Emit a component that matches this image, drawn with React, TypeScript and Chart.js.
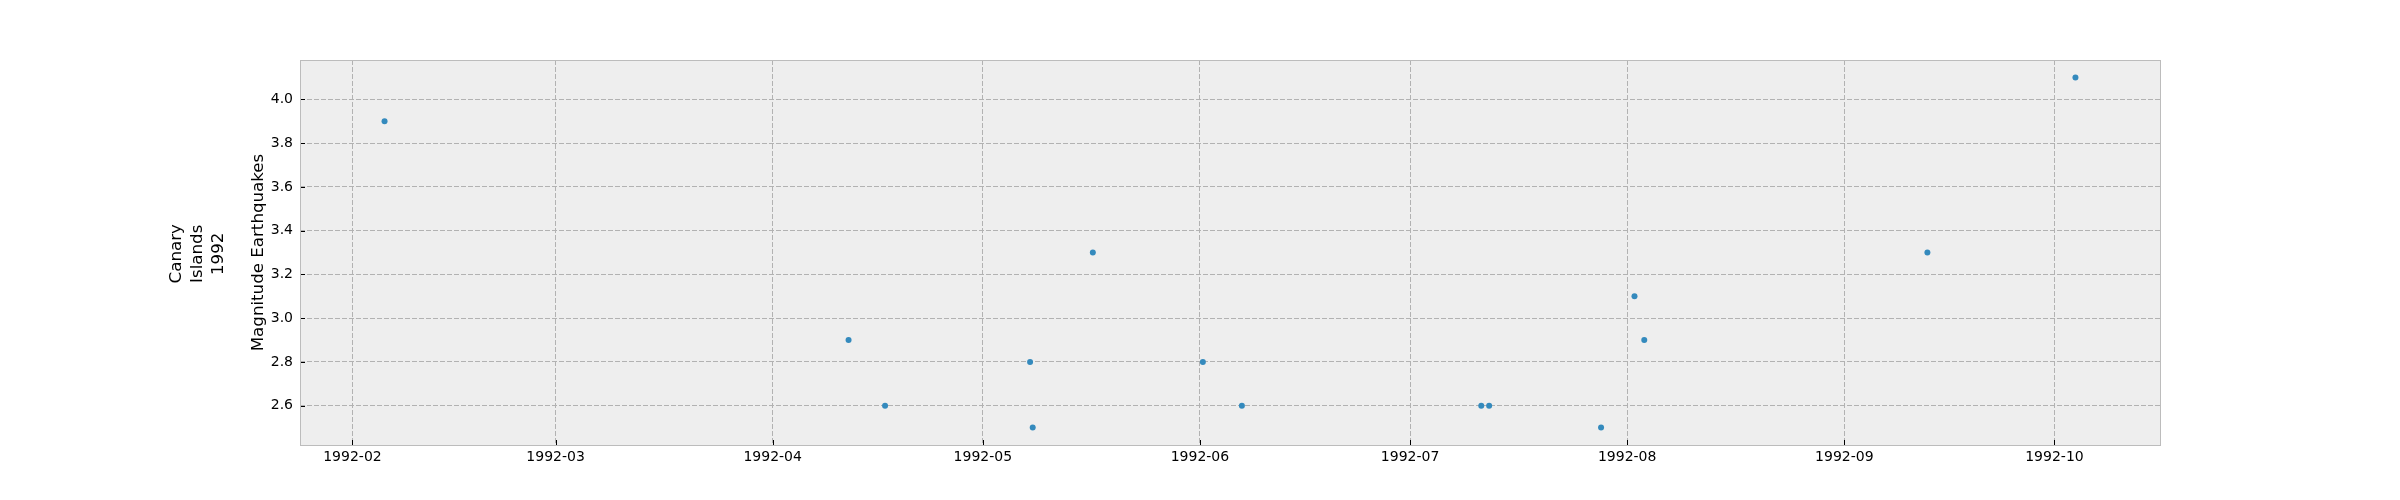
import React, { useEffect, useRef } from "react";
import { Chart, registerables } from "chart.js";

Chart.register(...registerables);

// Event times (UTC) and magnitudes
const EVENT_TIMES: string[] = [
  "1992-02-05T14:00Z",
  "1992-04-11T20:00Z",
  "1992-04-17T01:00Z",
  "1992-05-07T18:00Z",
  "1992-05-08T03:00Z",
  "1992-05-16T17:00Z",
  "1992-06-01T10:00Z",
  "1992-06-06T23:45Z",
  "1992-07-11T04:00Z",
  "1992-07-12T07:00Z",
  "1992-07-28T06:30Z",
  "1992-08-02T01:00Z",
  "1992-08-03T10:30Z",
  "1992-09-12T20:40Z",
  "1992-10-04T00:00Z",
];
const MAGNITUDES: number[] = [3.9, 2.9, 2.6, 2.8, 2.5, 3.3, 2.8, 2.6, 2.6, 2.6, 2.5, 3.1, 2.9, 3.3, 4.1];

const X_TICK_LABELS: string[] = [
  "1992-02", "1992-03", "1992-04", "1992-05", "1992-06",
  "1992-07", "1992-08", "1992-09", "1992-10",
];
const Y_TICKS: number[] = [2.6, 2.8, 3.0, 3.2, 3.4, 3.6, 3.8, 4.0];

const Y_TITLE = "Magnitude Earthquakes";
const SIDE_LABEL: string[] = ["Canary", "Islands", "1992"];

const FONT = "'DejaVu Sans', sans-serif";

export default function App() {
  const ref = useRef<HTMLCanvasElement | null>(null);

  useEffect(() => {
    if (!ref.current) return;
    const xs = EVENT_TIMES.map((t) => Date.parse(t));
    const points = xs.map((x, i) => ({ x, y: MAGNITUDES[i] }));
    const xMin0 = Math.min(...xs), xMax0 = Math.max(...xs);
    const xm = (xMax0 - xMin0) * 0.05;
    const yMin0 = Math.min(...MAGNITUDES), yMax0 = Math.max(...MAGNITUDES);
    const ym = (yMax0 - yMin0) * 0.05;
    const xTickValues = X_TICK_LABELS.map((l) => Date.parse(l + "-01T00:00Z"));

    const bmhPlugin = {
      id: "bmh",
      beforeDraw(chart: any) {
        const { ctx, chartArea: a } = chart;
        ctx.save();
        ctx.fillStyle = "#eeeeee";
        ctx.fillRect(a.left, a.top, a.right - a.left, a.bottom - a.top);
        ctx.restore();
      },
      afterDraw(chart: any) {
        const { ctx, chartArea: a } = chart;
        const xs = chart.scales.x;
        const ys = chart.scales.y;
        ctx.save();
        // inward tick marks
        ctx.strokeStyle = "#000";
        ctx.lineWidth = 1;
        ctx.beginPath();
        for (const t of xs.ticks) {
          const px = Math.round(xs.getPixelForValue(t.value)) + 0.5;
          ctx.moveTo(px, a.bottom);
          ctx.lineTo(px, a.bottom - 5);
        }
        for (const t of ys.ticks) {
          const py = Math.round(ys.getPixelForValue(t.value)) + 0.5;
          ctx.moveTo(a.left, py);
          ctx.lineTo(a.left + 5, py);
        }
        ctx.stroke();
        // frame
        ctx.strokeStyle = "#bcbcbc";
        ctx.lineWidth = 1;
        ctx.strokeRect(Math.round(a.left) + 0.5, Math.round(a.top) + 0.5, Math.round(a.right - a.left), Math.round(a.bottom - a.top));
        // y titles
        const cy = (a.top + a.bottom) / 2;
        ctx.fillStyle = "#000";
        ctx.textAlign = "center";
        ctx.textBaseline = "alphabetic";
        ctx.save();
        ctx.translate(a.left - 37, cy);
        ctx.rotate(-Math.PI / 2);
        ctx.font = `16.67px ${FONT}`;
        ctx.fillText(Y_TITLE, 0, 0);
        ctx.restore();
        SIDE_LABEL.forEach((line, i) => {
          ctx.save();
          ctx.translate(a.left - 119 + i * 20.8, cy + 1.3);
          ctx.rotate(-Math.PI / 2);
          ctx.font = `16.67px ${FONT}`;
          ctx.fillText(line, 0, 0);
          ctx.restore();
        });
        ctx.restore();
      },
    };

    const chart = new Chart(ref.current, {
      type: "scatter",
      data: {
        datasets: [
          {
            data: points,
            backgroundColor: "#348ABD",
            borderWidth: 0,
            pointRadius: 3,
            pointHoverRadius: 3,
          },
        ],
      },
      options: {
        animation: false,
        responsive: false,
        devicePixelRatio: 1,
        events: [],
        layout: { padding: { top: 60, right: 240, bottom: 0, left: 0 } },
        plugins: { legend: { display: false }, tooltip: { enabled: false } },
        scales: {
          x: {
            type: "linear",
            min: xMin0 - xm,
            max: xMax0 + xm,
            afterBuildTicks: (s: any) => {
              s.ticks = xTickValues.map((v) => ({ value: v }));
            },
            afterFit: (s: any) => {
              s.height = 55;
            },
            ticks: {
              autoSkip: false,
              maxRotation: 0,
              padding: 4,
              color: "#000",
              font: { family: FONT, size: 14 },
              callback: (v: any) => {
                const d = new Date(Number(v));
                return `${d.getUTCFullYear()}-${String(d.getUTCMonth() + 1).padStart(2, "0")}`;
              },
            },
            grid: { color: "#b2b2b2", lineWidth: 1, drawTicks: false },
            border: { display: false, dash: [5, 2] },
          },
          y: {
            type: "linear",
            min: yMin0 - ym,
            max: yMax0 + ym,
            afterBuildTicks: (s: any) => {
              s.ticks = Y_TICKS.map((v) => ({ value: v }));
            },
            afterFit: (s: any) => {
              s.width = 300;
            },
            ticks: {
              autoSkip: false,
              padding: 7,
              color: "#000",
              font: { family: FONT, size: 14 },
              callback: (v: any) => Number(v).toFixed(1),
            },
            grid: { color: "#b2b2b2", lineWidth: 1, drawTicks: false },
            border: { display: false, dash: [5, 2] },
          },
        },
      },
      plugins: [bmhPlugin],
    });
    return () => chart.destroy();
  }, []);

  return (
    <div style={{ position: "absolute", left: 0, top: 0, width: 2400, height: 500, background: "#fff" }}>
      <canvas ref={ref} width={2400} height={500} style={{ width: 2400, height: 500, display: "block" }} />
    </div>
  );
}
